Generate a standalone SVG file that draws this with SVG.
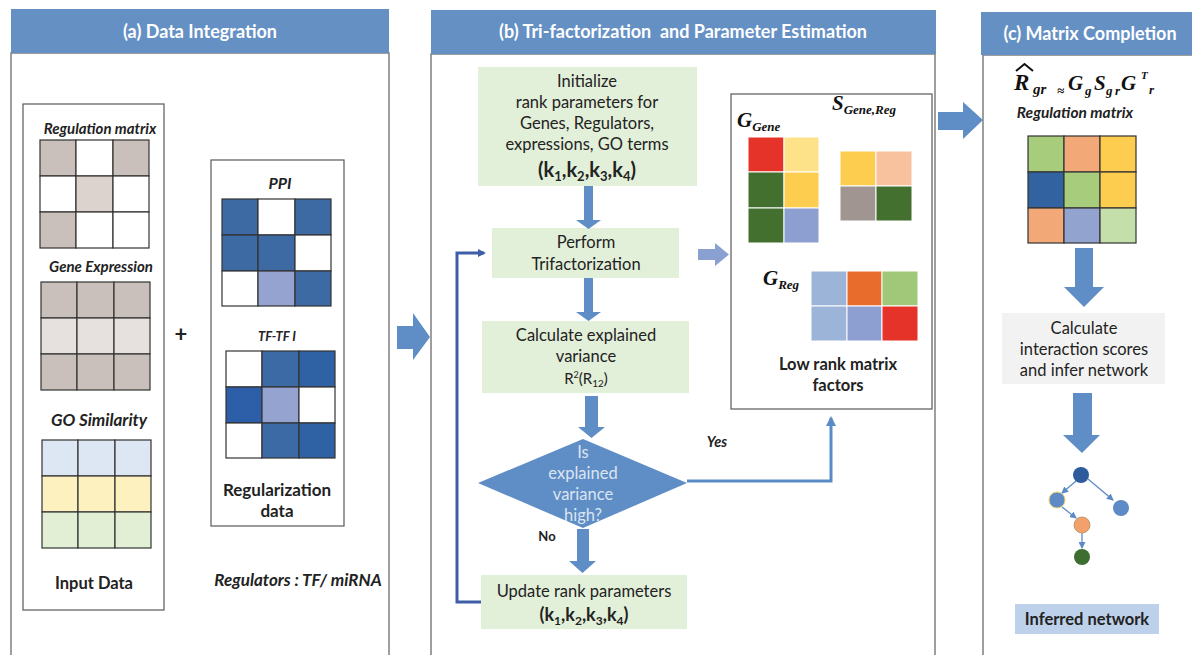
<svg xmlns="http://www.w3.org/2000/svg" width="1192" height="655" viewBox="0 0 1192 655">
<defs>
<style>
.hdr{fill:#6590c4}
.hdrt{font-family:Lato,"Liberation Sans",sans-serif;font-weight:bold;font-size:18px;fill:#fff;text-anchor:middle}
.pan{fill:#fff;stroke:#7f7f7f;stroke-width:1.5}
.box{fill:#fff;stroke:#595959;stroke-width:1.2}
.t{font-family:Lato,"Liberation Sans",sans-serif;font-size:16.5px;fill:#222;text-anchor:middle}
.b{font-weight:bold}
.bi{font-weight:bold;font-style:italic}
.g{stroke:#333;stroke-width:1.2}
.f{stroke:#fff;stroke-width:1}
.step{fill:#e2efd9}
.blk{fill:#5f8dc6}
.loop{fill:none;stroke:#3f5ea8;stroke-width:3}
.yes{fill:none;stroke:#5b8bc7;stroke-width:3}
.edge{stroke:#5b8bc7;stroke-width:1.3;fill:none}
.m{font-family:"Liberation Serif",serif;font-weight:bold;font-style:italic;fill:#111}
.w{fill:#dbe5f1}
</style>
<marker id="ah" markerWidth="8" markerHeight="8" refX="6" refY="4" orient="auto" markerUnits="userSpaceOnUse"><path d="M0,0 L8,4 L0,8 z" fill="#3f5ea8"/></marker>
<marker id="ah2" markerWidth="10" markerHeight="10" refX="8" refY="5" orient="auto" markerUnits="userSpaceOnUse"><path d="M0,0 L10,5 L0,10 z" fill="#5b8bc7"/></marker>
<marker id="ah3" markerWidth="7" markerHeight="7" refX="6" refY="3.5" orient="auto" markerUnits="userSpaceOnUse"><path d="M0,0 L7,3.5 L0,7 z" fill="#5b8bc7"/></marker>
</defs>
<rect width="1192" height="655" fill="#fff"/>

<!-- Panel a -->
<g id="panel-a">
<rect class="pan" x="11" y="53" width="378" height="620"/>
<rect class="hdr" x="11" y="9" width="378" height="44"/>
<text class="hdrt" x="200" y="38">(a) Data Integration</text>
</g>
<g id="input-data">
<rect class="box" x="23" y="104" width="141" height="506"/>
<text class="t bi" x="100" y="134" style="font-size:15px">Regulation matrix</text>
<g class="g">
<rect x="40" y="140" width="36" height="36" fill="#c9c0bb"/><rect x="76" y="140" width="37" height="36" fill="#fff"/><rect x="113" y="140" width="36" height="36" fill="#c9c0bb"/>
<rect x="40" y="176" width="36" height="36" fill="#fff"/><rect x="76" y="176" width="37" height="36" fill="#dcd3cf"/><rect x="113" y="176" width="36" height="36" fill="#fff"/>
<rect x="40" y="212" width="36" height="36" fill="#c9c0bb"/><rect x="76" y="212" width="37" height="36" fill="#fff"/><rect x="113" y="212" width="36" height="36" fill="#fff"/>
</g>
<text class="t bi" x="101" y="272" style="font-size:15px">Gene Expression</text>
<g class="g">
<rect x="41" y="282" width="36" height="36" fill="#c9c0bb"/><rect x="77" y="282" width="37" height="36" fill="#c9c0bb"/><rect x="114" y="282" width="36" height="36" fill="#c9c0bb"/>
<rect x="41" y="318" width="36" height="36" fill="#e6e1de"/><rect x="77" y="318" width="37" height="36" fill="#e6e1de"/><rect x="114" y="318" width="36" height="36" fill="#e6e1de"/>
<rect x="41" y="354" width="36" height="36" fill="#c9c0bb"/><rect x="77" y="354" width="37" height="36" fill="#c9c0bb"/><rect x="114" y="354" width="36" height="36" fill="#c9c0bb"/>
</g>
<text class="t bi" x="99" y="426" style="font-size:17px">GO Similarity</text>
<g class="g">
<rect x="42" y="440" width="36" height="36" fill="#dde6f3"/><rect x="78" y="440" width="37" height="36" fill="#dde6f3"/><rect x="115" y="440" width="36" height="36" fill="#dde6f3"/>
<rect x="42" y="476" width="36" height="36" fill="#fdf1c0"/><rect x="78" y="476" width="37" height="36" fill="#fdf1c0"/><rect x="115" y="476" width="36" height="36" fill="#fdf1c0"/>
<rect x="42" y="512" width="36" height="36" fill="#e2efd4"/><rect x="78" y="512" width="37" height="36" fill="#e2efd4"/><rect x="115" y="512" width="36" height="36" fill="#e2efd4"/>
</g>
<text class="t b" x="94" y="589" style="font-size:16.5px">Input Data</text>
</g>
<text class="t b" x="181" y="342" style="font-size:22px">+</text>
<g id="regularization-data">
<rect class="box" x="211" y="160" width="133" height="366"/>
<text class="t bi" x="280" y="189" style="font-size:16px">PPI</text>
<g class="g">
<rect x="222" y="199" width="36" height="36" fill="#3d6aa3"/><rect x="258" y="199" width="37" height="36" fill="#fff"/><rect x="295" y="199" width="36" height="36" fill="#3d6aa3"/>
<rect x="222" y="235" width="36" height="36" fill="#3d6aa3"/><rect x="258" y="235" width="37" height="36" fill="#3d6aa3"/><rect x="295" y="235" width="36" height="36" fill="#fff"/>
<rect x="222" y="271" width="36" height="35" fill="#fff"/><rect x="258" y="271" width="37" height="35" fill="#94a3cf"/><rect x="295" y="271" width="36" height="35" fill="#3d6aa3"/>
</g>
<text class="t bi" x="277" y="341" style="font-size:13px">TF-TF I</text>
<g class="g">
<rect x="226" y="351" width="36" height="36" fill="#fff"/><rect x="262" y="351" width="37" height="36" fill="#3c6aa4"/><rect x="299" y="351" width="36" height="36" fill="#2f62a5"/>
<rect x="226" y="387" width="36" height="36" fill="#2d5fa8"/><rect x="262" y="387" width="37" height="36" fill="#94a3cf"/><rect x="299" y="387" width="36" height="36" fill="#fff"/>
<rect x="226" y="423" width="36" height="35" fill="#fff"/><rect x="262" y="423" width="37" height="35" fill="#3c6aa4"/><rect x="299" y="423" width="36" height="35" fill="#2f62a5"/>
</g>
<text class="t b" x="277" y="496" style="font-size:17px">Regularization</text>
<text class="t b" x="277" y="517" style="font-size:17px">data</text>
</g>
<text class="t bi" x="298" y="586" style="font-size:17px">Regulators : TF/ miRNA</text>

<!-- Panel b -->
<g id="panel-b">
<rect class="pan" x="431" y="54" width="504" height="620"/>
<rect class="hdr" x="431" y="10" width="505" height="44"/>
<text class="hdrt" x="683" y="38" xml:space="preserve">(b) Tri-factorization  and Parameter Estimation</text>
</g>
<g id="initialize">
<rect class="step" x="478" y="67" width="219" height="119"/>
<text class="t" x="587" y="87">Initialize</text>
<text class="t" x="587" y="108">rank parameters for</text>
<text class="t" x="587" y="129">Genes, Regulators,</text>
<text class="t" x="587" y="150">expressions, GO terms</text>
<text class="t b" x="587" y="177" style="font-size:20px">(k<tspan font-size="13" dy="4">1</tspan><tspan dy="-4">,k</tspan><tspan font-size="13" dy="4">2</tspan><tspan dy="-4">,k</tspan><tspan font-size="13" dy="4">3</tspan><tspan dy="-4">,k</tspan><tspan font-size="13" dy="4">4</tspan><tspan dy="-4">)</tspan></text>
</g>
<g id="perform">
<rect class="step" x="492" y="228" width="187" height="50"/>
<text class="t" x="586" y="248">Perform</text>
<text class="t" x="586" y="270">Trifactorization</text>
</g>
<g id="calculate">
<rect class="step" x="482" y="321" width="207" height="72"/>
<text class="t" x="586" y="341">Calculate explained</text>
<text class="t" x="586" y="362">variance</text>
<text class="t" x="586" y="384" style="font-size:15px">R<tspan font-size="9" dy="-6">2</tspan><tspan dy="6">(R</tspan><tspan font-size="10" dy="3">12</tspan><tspan dy="-3">)</tspan></text>
</g>
<g id="decision">
<polygon points="478,483 583,439 687,483 583,528" fill="#5f8dc6"/>
<text class="t w" x="583" y="458">Is</text>
<text class="t w" x="583" y="479">explained</text>
<text class="t w" x="583" y="500">variance</text>
<text class="t w" x="583" y="521">high?</text>
</g>
<g id="update">
<rect class="step" x="481" y="575" width="206" height="54"/>
<text class="t" x="584" y="597">Update rank parameters</text>
<text class="t b" x="584" y="621" style="font-size:18px">(k<tspan font-size="12" dy="4">1</tspan><tspan dy="-4">,k</tspan><tspan font-size="12" dy="4">2</tspan><tspan dy="-4">,k</tspan><tspan font-size="12" dy="4">3</tspan><tspan dy="-4">,k</tspan><tspan font-size="12" dy="4">4</tspan><tspan dy="-4">)</tspan></text>
</g>
<g id="low-rank-factors">
<rect class="box" x="731" y="94" width="201" height="315"/>
<text class="m" x="737" y="127" font-size="21">G<tspan font-size="13" dy="4">Gene</tspan></text>
<g class="f">
<rect x="748" y="137" width="36" height="35" fill="#e63329"/><rect x="784" y="137" width="35" height="35" fill="#fde28a"/>
<rect x="748" y="172" width="36" height="36" fill="#436f2f"/><rect x="784" y="172" width="35" height="36" fill="#fdcd50"/>
<rect x="748" y="208" width="36" height="35" fill="#436f2f"/><rect x="784" y="208" width="35" height="35" fill="#8c9fd0"/>
</g>
<text class="m" x="832" y="110" font-size="21">S<tspan font-size="13" dy="4">Gene,Reg</tspan></text>
<g class="f">
<rect x="840" y="151" width="36" height="35" fill="#fdcd50"/><rect x="876" y="151" width="36" height="35" fill="#f8c29e"/>
<rect x="840" y="186" width="36" height="35" fill="#a09590"/><rect x="876" y="186" width="36" height="35" fill="#436f2f"/>
</g>
<text class="m" x="763" y="285" font-size="21">G<tspan font-size="13" dy="4">Reg</tspan></text>
<g class="f">
<rect x="811" y="271" width="36" height="35" fill="#9cb4d8"/><rect x="847" y="271" width="35" height="35" fill="#e86c2c"/><rect x="882" y="271" width="36" height="35" fill="#a1c878"/>
<rect x="811" y="306" width="36" height="35" fill="#9cb4d8"/><rect x="847" y="306" width="35" height="35" fill="#8c9fd0"/><rect x="882" y="306" width="36" height="35" fill="#e63329"/>
</g>
<text class="t b" x="838" y="370" style="font-size:16.5px">Low rank matrix</text>
<text class="t b" x="838" y="391" style="font-size:16.5px">factors</text>
</g>
<text class="t bi" x="717" y="447" style="font-size:14.5px">Yes</text>
<text class="t b" x="547" y="541" style="font-size:13px">No</text>

<!-- Panel c -->
<g id="panel-c">
<rect class="pan" x="983" y="55" width="230" height="620"/>
<rect class="hdr" x="981" y="12" width="215" height="43"/>
<text class="hdrt" x="1090" y="40">(c) Matrix Completion</text>
</g>
<g id="formula">
<path d="M1016,71 L1024.5,64 L1033,71" fill="none" stroke="#111" stroke-width="2"/>
<text class="m" x="1014" y="90" font-size="23">R</text>
<text class="m" x="1033" y="94" font-size="15">gr</text>
<text class="m" x="1057" y="95" font-size="13">≈</text>
<text class="m" x="1068" y="90" font-size="21">G</text>
<text class="m" x="1085" y="95" font-size="13">g</text>
<text class="m" x="1094" y="90" font-size="21">S</text>
<text class="m" x="1106" y="95" font-size="13">g</text>
<text class="m" x="1115" y="95" font-size="13">r</text>
<text class="m" x="1121" y="90" font-size="21">G</text>
<text class="m" x="1141" y="79" font-size="11">T</text>
<text class="m" x="1149" y="94" font-size="13">r</text>
</g>
<text class="t bi" x="1075" y="118" style="font-size:15.5px">Regulation matrix</text>
<g id="completed-matrix" class="g">
<rect x="1028" y="136" width="36" height="36" fill="#a6cc7c"/><rect x="1064" y="136" width="36" height="36" fill="#f2a877"/><rect x="1100" y="136" width="36" height="36" fill="#fdcd50"/>
<rect x="1028" y="172" width="36" height="36" fill="#3262a0"/><rect x="1064" y="172" width="36" height="36" fill="#a6cc7c"/><rect x="1100" y="172" width="36" height="36" fill="#fdcd50"/>
<rect x="1028" y="208" width="36" height="35" fill="#f2a877"/><rect x="1064" y="208" width="36" height="35" fill="#93a3cf"/><rect x="1100" y="208" width="36" height="35" fill="#c5dfaa"/>
</g>
<g id="calc-scores">
<rect x="1002" y="313" width="163" height="71" fill="#f2f2f2"/>
<text class="t" x="1084" y="334">Calculate</text>
<text class="t" x="1084" y="355">interaction scores</text>
<text class="t" x="1084" y="376">and infer network</text>
</g>
<g id="network">
<line class="edge" x1="1076" y1="481" x2="1062" y2="493" marker-end="url(#ah3)"/>
<line class="edge" x1="1088" y1="479" x2="1113" y2="500" marker-end="url(#ah3)"/>
<line class="edge" x1="1062" y1="507" x2="1076" y2="518" marker-end="url(#ah3)"/>
<line class="edge" x1="1082" y1="533" x2="1082" y2="548" marker-end="url(#ah3)"/>
<circle cx="1081" cy="475" r="8" fill="#2d5b9b"/>
<circle cx="1057" cy="500" r="8" fill="#5e8ac6" stroke="#e8d46a" stroke-width="1"/>
<circle cx="1121" cy="508" r="8" fill="#5e8ac6"/>
<circle cx="1082" cy="525" r="8" fill="#f2a16d" stroke="#b09060" stroke-width="0.8"/>
<circle cx="1082" cy="557" r="8" fill="#3e6d31"/>
</g>
<g id="inferred-network">
<rect x="1015" y="604" width="144" height="30" fill="#bdd1ea"/>
<text class="t b" x="1087" y="625" style="font-size:16.5px">Inferred network</text>
</g>

<!-- Connectors -->
<g id="connectors">
<polygon class="blk" points="397,326 413,326 413,313 430,337 413,360 413,349 397,349"/>
<polygon class="blk" points="938,112 963,112 963,102 983,120 963,139 963,130 938,130"/>
<polygon class="blk" points="584,186 593,186 593,220 601,220 588.5,229 576,220 584,220"/>
<polygon class="blk" points="584,278 593,278 593,312 601,312 588.5,321 576,312 584,312"/>
<polygon class="blk" points="585,396 598,396 598,427 605,427 591.5,438 578,427 585,427"/>
<polygon class="blk" points="577,529 589,529 589,561 596,561 582.5,573 569,561 577,561"/>
<polygon points="698,249 715,249 715,243 729,254.5 715,266 715,260 698,260" fill="#8aa0d0"/>
<polygon class="blk" points="1075,248 1093,248 1093,287 1104,287 1084,307 1064,287 1075,287"/>
<polygon class="blk" points="1073,393 1092,393 1092,435 1100,435 1082,453 1063,435 1073,435"/>
<path class="loop" d="M481,602 H457 V253 H484" marker-end="url(#ah)"/>
<path class="yes" d="M687,481 H831 V418" marker-end="url(#ah2)"/>
</g>
</svg>
